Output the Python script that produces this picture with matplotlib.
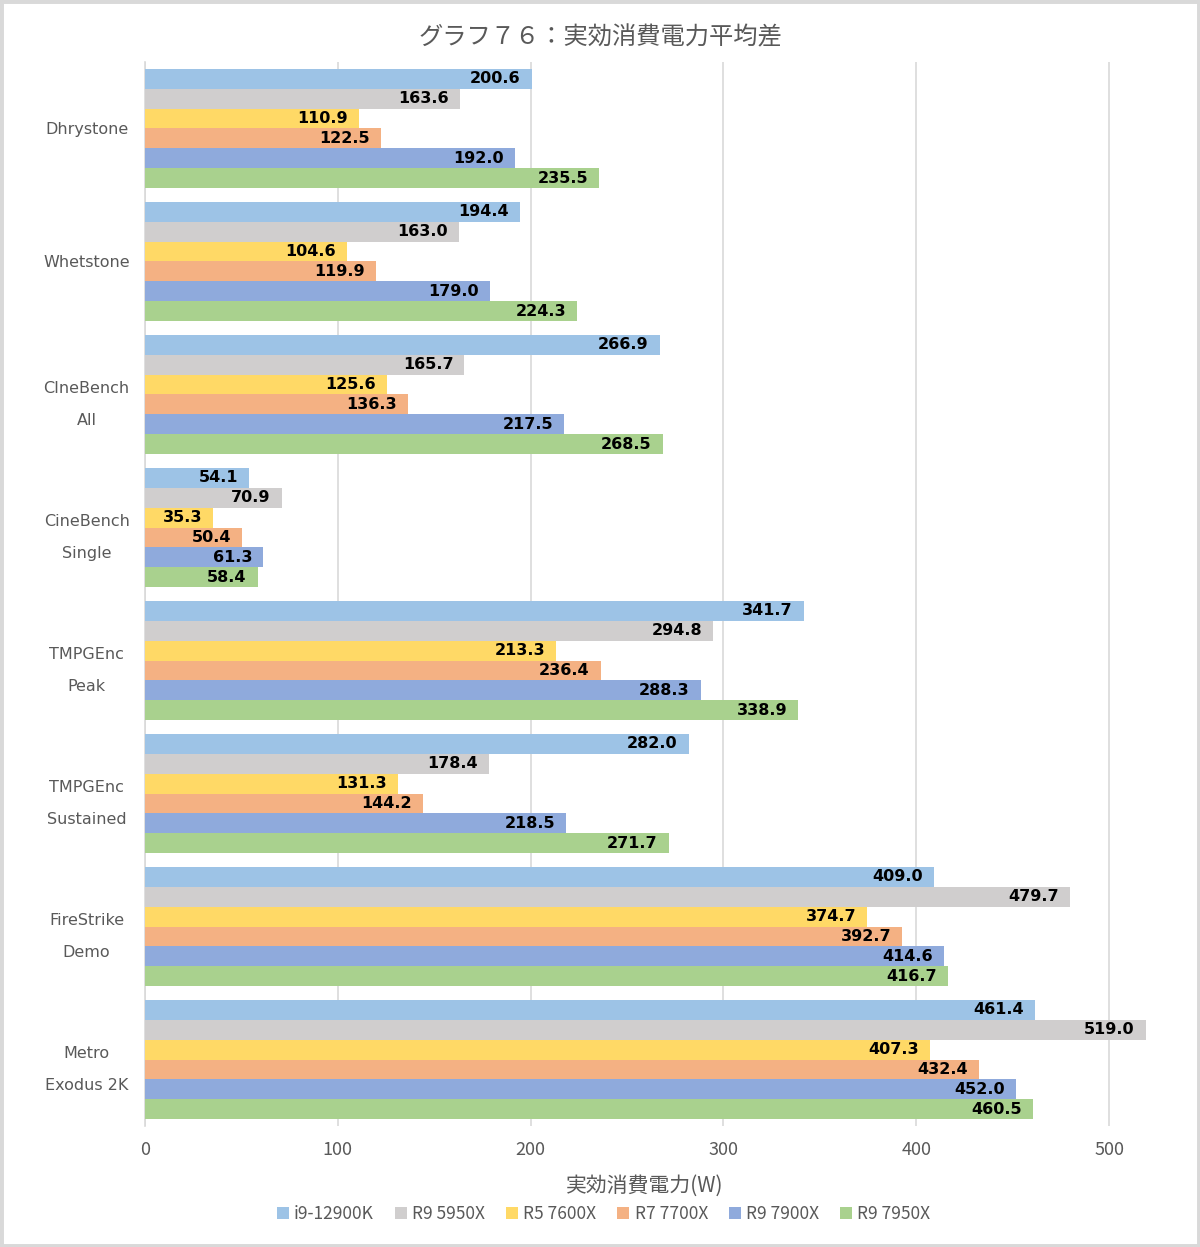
import numpy as np
import matplotlib
matplotlib.use('Agg')
import matplotlib.pyplot as plt
from matplotlib.patches import Rectangle, Patch

# Data
categories = ['Dhrystone', 'Whetstone', 'CIneBench\nAll', 'CineBench\nSingle',
              'TMPGEnc\nPeak', 'TMPGEnc\nSustained', 'FireStrike\nDemo', 'Metro\nExodus 2K']
series = ['i9-12900K', 'R9 5950X', 'R5 7600X', 'R7 7700X', 'R9 7900X', 'R9 7950X']
i9_12900k = [200.6, 194.4, 266.9, 54.1, 341.7, 282.0, 409.0, 461.4]
r9_5950x = [163.6, 163.0, 165.7, 70.9, 294.8, 178.4, 479.7, 519.0]
r5_7600x = [110.9, 104.6, 125.6, 35.3, 213.3, 131.3, 374.7, 407.3]
r7_7700x = [122.5, 119.9, 136.3, 50.4, 236.4, 144.2, 392.7, 432.4]
r9_7900x = [192.0, 179.0, 217.5, 61.3, 288.3, 218.5, 414.6, 452.0]
r9_7950x = [235.5, 224.3, 268.5, 58.4, 338.9, 271.7, 416.7, 460.5]
values = [i9_12900k, r9_5950x, r5_7600x, r7_7700x, r9_7900x, r9_7950x]
colors = ['#9DC3E6', '#D0CECE', '#FFD966', '#F4B183', '#8FAADC', '#A9D18E']
xticks = [0, 100, 200, 300, 400, 500]

CJK = ['Noto Sans CJK JP', 'DejaVu Sans']
GRAY = '#595959'

fig = plt.figure(figsize=(12, 12.47), dpi=100)
ax = fig.add_axes([0.1208, 0.0970, 0.8516, 0.8533])

n = len(series)
bar_h = 0.9 / n
y = np.arange(len(categories))
for i, (name, vals, col) in enumerate(zip(series, values, colors)):
    pos = y - 0.45 + bar_h * (i + 0.5)
    ax.barh(pos, vals, height=bar_h, color=col, label=name, zorder=2)
    for p, v in zip(pos, vals):
        ax.annotate(f"{v:.1f}", xy=(v, p), xytext=(-8, 0), textcoords='offset points',
                    ha='right', va='center', fontsize=11.5, fontweight='bold',
                    color='black', family='DejaVu Sans', zorder=3)

ax.set_xlim(0, 530)
ax.set_ylim(len(categories) - 0.5, -0.5)
ax.set_xticks(xticks)
ax.set_xticklabels([str(t) for t in xticks], family=CJK, fontsize=13, color=GRAY)
ax.set_yticks(y)
ax.set_yticklabels(categories, family='DejaVu Sans', fontsize=11.5, color=GRAY, linespacing=2.45)
for lab in ax.get_yticklabels():
    lab.set_multialignment('center')
    lab.set_horizontalalignment('center')
ax.tick_params(axis='y', length=0, pad=42)
ax.tick_params(axis='x', length=0, pad=11)
ax.grid(axis='x', color='#D9D9D9', linewidth=1.2, zorder=0)
for s in ['top', 'right', 'bottom']:
    ax.spines[s].set_visible(False)
ax.spines['left'].set_color('#D9D9D9')
ax.spines['left'].set_linewidth(1.2)
ax.spines['left'].set_zorder(1)

fig.text(0.5, 1 - 37 / 1247, 'グラフ７６：実効消費電力平均差', ha='center', va='center',
         fontsize=17.5, color=GRAY, family=CJK)
fig.text(0.537, 1 - 1186 / 1247, '実効消費電力(W)', ha='center', va='center',
         fontsize=15, color=GRAY, family=CJK)

handles = [Patch(facecolor=c, edgecolor='none', label=s) for s, c in zip(series, colors)]
fig.legend(handles=handles, loc='center', bbox_to_anchor=(0.503, 1 - 1214 / 1247), ncol=6,
           frameon=False, prop={'family': CJK, 'size': 12.5}, labelcolor=GRAY,
           handlelength=0.7, handleheight=0.7, handletextpad=0.3, columnspacing=1.2)

# light gray frame around the picture
fig.patches.append(Rectangle((0, 0), 1, 1, transform=fig.transFigure, fill=False,
                             edgecolor='#D9D9D9', linewidth=5))

fig.savefig('out.png', dpi=100)
